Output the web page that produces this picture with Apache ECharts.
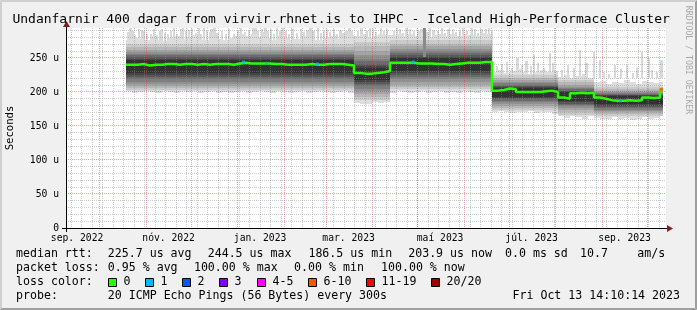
<!DOCTYPE html>
<html><head><meta charset="utf-8">
<script src="https://cdn.jsdelivr.net/npm/echarts@6/dist/echarts.min.js"></script>
<style>html,body{margin:0;padding:0;background:#f0f0f0}#c{width:697px;height:310px}</style>
</head><body><div id="c"></div>
<script>
// ---------------- data ----------------
const START = Date.UTC(2022, 8, 8, 14, 10, 14);
const END = Date.UTC(2023, 9, 13, 14, 10, 14);
const DAY = 86400000;
const YMAX = 294.1;

const titleText = 'Undanfarnir 400 dagar from virvir.rhnet.is to IHPC - Iceland High-Performace Cluster';
const xLabels = ['sep. 2022', 'nóv. 2022', 'jan. 2023', 'mar. 2023', 'maí 2023', 'júl. 2023', 'sep. 2023'];
const xLabelDates = ['2022-09-16', '2022-11-16', '2023-01-16', '2023-03-16', '2023-05-16', '2023-07-16', '2023-09-16'];
const yTicks = [0, 50, 100, 150, 200, 250];
const yTickLabels = ['0', '50 u', '100 u', '150 u', '200 u', '250 u'];

// smoke samples: one every 4 days, first one 40 days after graph start
const sampleFirstDay = 40;
const sampleDays = 4;
const dataLastDay = 397.7;

// median rtt (us) per sample
const median = [
  240,240,241,239,240,240,241,241,240,241, 241,240,241,240,241,241,241,240,242,243,
  242,242,242,242,241,241,240,240,240,240, 241,240,240,241,241,241,240,239,
  228,227,227,228,229,231,
  243,243,243,243,242,242,242,241,241,240,241,242,243,243,243,244,244,
  202,203,205,204,200,200,200,200,201,202,200,
  192,190,198,199,198,199,
  192,190,188,187,187,188,187,188,192,191,192,204
];
// outermost smoke band (slowest / fastest ping) per sample
const pingMax = [
  276,280,278,277,282,276,275,279,283,278, 281,284,277,276,280,278,277,279,282,285,
  283,286,281,279,277,282,280,276,278,283, 281,277,276,279,282,278,280,284,
  282,285,280,283,286,284,
  284,286,282,285,283,287,281,284,286,283,285,282,286,284,283,287,285,
  230,232,228,231,234,229,227,230,233,229,231,
  222,225,220,223,226,221,
  214,216,212,215,213,217,214,212,216,215,213,214
];
const pingMin = [
  201,199,200,202,200,198,201,200,199,201, 200,202,199,200,201,199,200,198,200,201,
  199,200,202,200,199,201,200,198,200,201, 199,200,201,200,199,200,201,198,
  184,182,183,185,184,186,
  199,201,200,198,200,202,199,200,201,199,200,198,201,200,199,201,200,
  170,172,171,169,171,170,172,169,171,170,168,
  164,162,165,163,161,164,
  162,160,161,163,160,162,159,161,163,160,162,164
];
// inner smoke bands, one value per regime (regimes start at these samples)
const regimeFirstSample = [0, 38, 44, 61, 72, 78];
const lo2  = [203,188,204,173,166,164], hi2  = [270,274,277,225,218,208];
const lo3  = [206,193,207,176,170,167], hi3  = [266,267,271,221,214,205];
const lo4  = [209,197,211,179,173,170], hi4  = [262,260,267,218,211,202];
const lo5  = [212,201,215,182,176,172], hi5  = [259,254,263,215,208,200];
const lo6  = [215,205,219,185,179,174], hi6  = [256,249,260,213,206,198];
const lo7  = [219,209,222,187,181,176], hi7  = [254,245,257,211,204,197];
const lo8  = [222,212,225,189,183,178], hi8  = [251,241,254,209,202,196];
const lo9  = [225,215,228,191,185,180], hi9  = [249,238,252,207,201,195];
const lo10 = [228,218,231,193,187,182], hi10 = [247,235,250,206,200,194];

// isolated slow pings (days after graph start, top value us)
const spikeDay = [42.3,43.7,47.7,49.7,55.7,61.7,65,75.7,77,79,83,85.7,91,93,96.3,111,124.3,127,129.7,132.3,
  133.7,142.3,143.7,150.3,153,162.3,164.3,173,175,186.3,188.3,
  40.7,45,51,53,58,59.7,63.3,67,69,71.3,73,81,87.7,89.3,95,98.3,100.3,103,105.7,108,
  113.7,116,118.7,121,123,126,131,135.7,138,140,146,148,155.7,158,160.3,167,169.3,171,177.7,180,182.3,184.3,190,
  196.3,199.7,203.7,209,211, 193.7,201.7,206,213,
  221.7,226.3,234.3,238.3,244.3,254.3,261.7,269.7,276.3,281,
  218,220,224,228.7,231,236.3,240.3,242,247,249.7,252,257,259.3,264,266.7,272,274,279,283,
  293,300.3,306.3,311,321.7, 286.7,290,296.7,303,309,314,317.7,324,
  341.7,346.3,351, 330,334,338,
  355,365,373,383,387.7,393,396.3, 358,361,369,377,380,390];
const spikeTop = [294,289,293,291,286,290,287,292,294,289,293,287,294,290,292,286,294,290,293,294,
  289,290,294,292,287,294,289,292,288,290,294,
  288,284,290,285,292,284,293,285,289,294,286,291,294,286,288,294,287,290,285,292,
  289,294,288,291,286,294,288,292,286,294,290,286,293,288,291,294,287,290,293,286,291,287,289,
  294,290,292,294,290, 289,294,288,293,
  292,294,290,294,291,293,290,294,292,294,
  290,294,287,292,289,293,288,294,290,294,287,292,288,294,289,292,287,293,290,
  244,250,246,254,257, 238,241,236,240,238,242,236,243,
  262,243,259, 232,240,235,
  247,240,240,259,250,230,247, 230,226,234,228,236,232];
const darkSpikeDay = [238.3];
const darkSpikeTop = [294];
const darkSpikeBottom = [252];

// median points with packet loss
const lossDay = [118.3, 133.7, 167.5, 231.5, 369.7, 397];
const lossVal = [244, 242, 241, 244, 187, 204];
const lossClass = [1, 1, 1, 1, 1, 5];

// legend
const lossLabels = ['0', '1', '2', '3', '4-5', '6-10', '11-19', '20/20'];
const lossColors = ['#26ff00', '#00b8ff', '#0059ff', '#7e00ff', '#ff00ff', '#ff5500', '#ff0000', '#a10000'];
const rttStats = ['225.7 us avg', '244.5 us max', '186.5 us min', '203.9 us now', '0.0 ms sd', '10.7', 'am/s'];
const lossStats = ['0.95 % avg', '100.00 % max', '0.00 % min', '100.00 % now'];
const probeText = '20 ICMP Echo Pings (56 Bytes) every 300s';
const dateText = 'Fri Oct 13 14:10:14 2023';

// ---------------- styling / layout ----------------
const MONO = '"DejaVu Sans Mono", monospace';
const bandColors = ['#dddddd','#cacaca','#b7b7b7','#a4a4a4','#919191','#7e7e7e','#6b6b6b','#585858','#454545','#323232'];
const innerLo = [lo2, lo3, lo4, lo5, lo6, lo7, lo8, lo9, lo10];
const innerHi = [hi2, hi3, hi4, hi5, hi6, hi7, hi8, hi9, hi10];
const GRID_MINOR = 'rgba(140,140,140,0.45)';
const GRID_MAJOR = 'rgba(200,60,60,0.45)';
const SPIKE_WIDTH_DAYS = 1.4;

function regimeOf(i) { let r = 0; regimeFirstSample.forEach((s, k) => { if (i >= s) r = k; }); return r; }
const samples = median.map((m, i) => {
  const d0 = sampleFirstDay + i * sampleDays;
  const d1 = Math.min(d0 + sampleDays, dataLastDay);
  return [START + d0 * DAY, START + d1 * DAY, pingMin[i], pingMax[i], i];
});
const medianLine = samples.map(s => [s[0], median[s[4]]]);
medianLine.push([samples[samples.length - 1][1], median[median.length - 1]]);

const xLabelTimes = xLabelDates.map(d => Date.parse(d + 'T00:00:00Z'));
function xLabelFor(v) {
  let best = 0;
  xLabelTimes.forEach((t, k) => { if (Math.abs(t - v) < Math.abs(xLabelTimes[best] - v)) best = k; });
  return xLabels[best];
}

// grid line positions
const vGrid = [];
for (let t = Date.UTC(2022, 8, 12); t <= END; t += 7 * DAY) if (t > START) vGrid.push([t, 0]);
for (let y = 2022, m = 9; y * 12 + m <= 2023 * 12 + 9; m++) { if (m > 11) { m = 0; y++; } vGrid.push([Date.UTC(y, m, 1), 1]); }
const hGrid = [];
for (let v = 10; v < YMAX; v += 10) hGrid.push([START, v, v % 50 === 0 ? 1 : 0]);

const chart = echarts.init(document.getElementById('c'), null, { renderer: 'canvas', width: 697, height: 310 });

function smokeItem(params, api) {
  const i = api.value(4);
  const t0 = api.value(0), t1 = api.value(1);
  const r = regimeOf(i);
  const xa = Math.round(api.coord([t0, 0])[0]);
  const xb = Math.round(api.coord([t1, 0])[0]);
  const kids = [];
  for (let k = 0; k < 10; k++) {
    const lo = k === 0 ? api.value(2) : innerLo[k - 1][r];
    const hi = k === 0 ? api.value(3) : innerHi[k - 1][r];
    const ya = Math.round(api.coord([t0, hi])[1]);
    const yb = Math.round(api.coord([t0, lo])[1]);
    kids.push({ type: 'rect', shape: { x: xa, y: ya, width: xb - xa, height: yb - ya }, style: { fill: bandColors[k] } });
  }
  return { type: 'group', children: kids };
}
function spikeItem(color) {
  return function (params, api) {
    const t = api.value(0);
    const xa = Math.round(api.coord([t, 0])[0]);
    const xb = Math.max(xa + 1, Math.round(api.coord([t + SPIKE_WIDTH_DAYS * DAY, 0])[0]));
    const ya = Math.round(api.coord([t, api.value(1)])[1]);
    const yb = Math.round(api.coord([t, api.value(2)])[1]);
    return { type: 'rect', shape: { x: xa, y: ya, width: xb - xa, height: yb - ya }, style: { fill: color } };
  };
}

const option = {
  backgroundColor: '#f0f0f0',
  animation: false,
  grid: { left: 66, top: 28, width: 600, height: 200, show: true, backgroundColor: '#ffffff', borderWidth: 0 },
  xAxis: {
    type: 'value', min: START, max: END, scale: true,
    axisLine: { show: false }, axisTick: { show: false }, splitLine: { show: false },
    axisLabel: { customValues: xLabelTimes, formatter: v => xLabelFor(v), fontFamily: MONO, fontSize: 9.7, color: '#000', margin: 5, hideOverlap: false }
  },
  yAxis: {
    type: 'value', min: 0, max: YMAX,
    axisLine: { show: false }, axisTick: { show: false }, splitLine: { show: false },
    axisLabel: { customValues: yTicks, formatter: v => yTickLabels[yTicks.indexOf(v)], fontFamily: MONO, fontSize: 9.7, color: '#000', margin: 7 }
  },
  series: [
    { type: 'custom', name: 'spikes', z: 1, silent: true,
      data: spikeDay.map((d, k) => [START + d * DAY, spikeTop[k], 220]),
      encode: { x: 0, y: 1 }, renderItem: spikeItem('#d9d9d9') },
    { type: 'custom', name: 'smoke', z: 2, silent: true,
      data: samples, dimensions: ['t0', 't1', 'lo', 'hi', 'i'],
      encode: { x: [0, 1], y: [2, 3] }, renderItem: smokeItem },
    { type: 'custom', name: 'darkSpikes', z: 3, silent: true,
      data: darkSpikeDay.map((d, k) => [START + d * DAY, darkSpikeTop[k], darkSpikeBottom[k]]),
      encode: { x: 0, y: 1 }, renderItem: spikeItem('#8a8a8a') },
    { type: 'custom', name: 'vgrid', z: 4, silent: true, data: vGrid, encode: { x: 0, y: 1 },
      renderItem: function (params, api) {
        const x = Math.floor(api.coord([api.value(0), 0])[0]) + 0.5;
        const y1 = api.coord([START, YMAX])[1], y2 = api.coord([START, 0])[1];
        return { type: 'line', shape: { x1: x, y1: y1, x2: x, y2: y2 },
          style: { stroke: api.value(1) ? GRID_MAJOR : GRID_MINOR, lineWidth: 1, lineDash: [1, 1] } };
      } },
    { type: 'custom', name: 'hgrid', z: 4, silent: true, data: hGrid, encode: { x: 0, y: 1 },
      renderItem: function (params, api) {
        const y = Math.floor(api.coord([START, api.value(1)])[1]) + 0.5;
        const x1 = api.coord([START, 0])[0], x2 = api.coord([END, 0])[0];
        return { type: 'line', shape: { x1: x1, y1: y, x2: x2, y2: y },
          style: { stroke: api.value(2) ? GRID_MAJOR : GRID_MINOR, lineWidth: 1, lineDash: [1, 1] } };
      } },
    { type: 'line', name: 'median', z: 5, data: medianLine, step: 'end', symbol: 'none', silent: true,
      lineStyle: { color: lossColors[0], width: 2.5 } },
    { type: 'scatter', name: 'loss', z: 6, silent: true, symbol: 'rect', symbolSize: [3, 3],
      data: lossDay.map((d, k) => ({ value: [START + d * DAY, lossVal[k]], itemStyle: { color: lossColors[lossClass[k]] } })) }
  ],
  graphic: []
};

const g = option.graphic;
// frame shading
g.push({ type: 'polygon', shape: { points: [[0,0],[697,0],[695,2],[2,2]] }, style: { fill: '#cfcfcf' } });
g.push({ type: 'polygon', shape: { points: [[0,0],[2,2],[2,308],[0,310]] }, style: { fill: '#cfcfcf' } });
g.push({ type: 'polygon', shape: { points: [[0,310],[2,308],[695,308],[697,310]] }, style: { fill: '#9e9e9e' } });
g.push({ type: 'polygon', shape: { points: [[697,0],[697,310],[695,308],[695,2]] }, style: { fill: '#9e9e9e' } });
// axes + arrows
g.push({ type: 'line', z: 50, shape: { x1: 62, y1: 228.5, x2: 668, y2: 228.5 }, style: { stroke: '#000', lineWidth: 1 } });
g.push({ type: 'line', z: 50, shape: { x1: 66.5, y1: 232, x2: 66.5, y2: 24 }, style: { stroke: '#000', lineWidth: 1 } });
g.push({ type: 'polygon', z: 51, shape: { points: [[667,225],[673,228.5],[667,232]] }, style: { fill: '#7f1f1f' } });
g.push({ type: 'polygon', z: 51, shape: { points: [[63,27],[66.5,21],[70,27]] }, style: { fill: '#7f1f1f' } });
// title & side texts
function txt(x, y, text, size, opts) {
  return Object.assign({ type: 'text', x: x, y: y, z: 60,
    style: Object.assign({ text: text, font: size + 'px ' + MONO, fill: '#000', textAlign: 'left', textVerticalAlign: 'middle' }, (opts && opts.style) || {}) },
    opts && opts.el || {});
}
g.push(txt(12.4, 19.5, titleText, 13));
g.push(txt(10.5, 128, 'Seconds', 10.6, { el: { rotation: Math.PI / 2 }, style: { textAlign: 'center' } }));
g.push(txt(688.5, 60, 'RRDTOOL / TOBI OETIKER', 8.2, { el: { rotation: -Math.PI / 2 }, style: { textAlign: 'center', fill: '#a8a8a8' } }));
// legend rows
const LF = 11.6;
const rowY = [254, 268.3, 282.3, 296.3];
g.push(txt(16, rowY[0], 'median rtt:', LF));
[107.8, 207.7, 308.4, 408.2, 505, 580, 637.3].forEach((x, k) => g.push(txt(x, rowY[0], rttStats[k], LF)));
g.push(txt(16, rowY[1], 'packet loss:', LF));
[107.8, 193.9, 294.1, 381].forEach((x, k) => g.push(txt(x, rowY[1], lossStats[k], LF)));
g.push(txt(16, rowY[2], 'loss color:', LF));
[108.5, 145.5, 182.5, 219.5, 257.5, 308.5, 366.5, 431.5].forEach((x, k) => {
  g.push({ type: 'rect', z: 60, shape: { x: x, y: 278.5, width: 8, height: 8 }, style: { fill: lossColors[k], stroke: '#000', lineWidth: 1 } });
  g.push(txt(x + 15, rowY[2], lossLabels[k], LF));
});
g.push(txt(16, rowY[3], 'probe:', LF));
g.push(txt(107.8, rowY[3], probeText, LF));
g.push(txt(680, rowY[3], dateText, LF, { style: { textAlign: 'right' } }));

chart.setOption(option);
</script></body></html>
